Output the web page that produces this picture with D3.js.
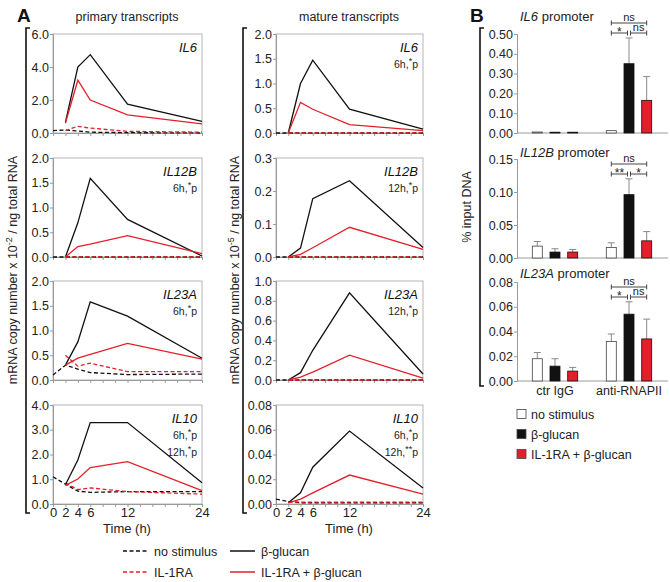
<!DOCTYPE html>
<html><head><meta charset="utf-8">
<script src="https://cdn.jsdelivr.net/npm/d3@7"></script>
<style>
body{margin:0;background:#fff;}
svg{font-family:"Liberation Sans",Arial,sans-serif;}
</style></head>
<body>
<svg id="c" width="670" height="582"></svg>
<script>
// ---------- DATA ----------
const timesH = [0, 2, 4, 6, 12, 24];
const timeTickLabels = [0, 2, 4, 6, 12, 24];
const seriesNames = ["no stimulus", "IL-1RA", "β-glucan", "IL-1RA + β-glucan"];

// primary transcripts (x 10^-2)
const pIL6_noStim   = [0.15, 0.18, 0.12, 0.05, 0.02, 0.0];
const pIL6_il1ra    = [null, 0.15, 0.40, 0.30, 0.10, 0.05];
const pIL6_beta     = [null, 0.65, 4.0, 4.75, 1.75, 0.70];
const pIL6_il1raB   = [null, 0.60, 3.2, 2.0, 1.10, 0.55];

const pIL12B_noStim = [0.0, 0.0, 0.0, 0.0, 0.0, 0.0];
const pIL12B_il1ra  = [null, 0.0, 0.0, 0.0, 0.0, 0.0];
const pIL12B_beta   = [null, 0.0, 0.69, 1.59, 0.76, 0.02];
const pIL12B_il1raB = [null, 0.0, 0.21, 0.26, 0.43, 0.07];

const pIL23A_noStim = [0.10, 0.30, 0.22, 0.15, 0.11, 0.12];
const pIL23A_il1ra  = [null, 0.50, 0.28, 0.34, 0.17, 0.17];
const pIL23A_beta   = [null, 0.30, 0.77, 1.58, 1.29, 0.44];
const pIL23A_il1raB = [null, 0.30, 0.44, 0.52, 0.74, 0.42];

const pIL10_noStim  = [1.10, 0.80, 0.52, 0.47, 0.50, 0.50];
const pIL10_il1ra   = [null, 0.85, 0.58, 0.65, 0.50, 0.40];
const pIL10_beta    = [null, 0.78, 1.78, 3.29, 3.29, 0.86];
const pIL10_il1raB  = [null, 0.75, 1.01, 1.47, 1.71, 0.54];

// mature transcripts (x 10^-5)
const mIL6_noStim   = [0.0, 0.0, 0.0, 0.0, 0.0, 0.0];
const mIL6_il1ra    = [null, 0.0, 0.0, 0.0, 0.0, 0.0];
const mIL6_beta     = [null, 0.0, 1.0, 1.47, 0.48, 0.08];
const mIL6_il1raB   = [null, 0.0, 0.62, 0.48, 0.17, 0.05];

const mIL12B_noStim = [0.0, 0.0, 0.0, 0.0, 0.0, 0.0];
const mIL12B_il1ra  = [null, 0.0, 0.0, 0.0, 0.0, 0.0];
const mIL12B_beta   = [null, 0.0, 0.027, 0.177, 0.231, 0.029];
const mIL12B_il1raB = [null, 0.0, 0.008, 0.028, 0.090, 0.023];

const mIL23A_noStim = [0.0, 0.0, 0.0, 0.0, 0.0, 0.0];
const mIL23A_il1ra  = [null, 0.0, 0.0, 0.0, 0.0, 0.0];
const mIL23A_beta   = [null, 0.0, 0.074, 0.30, 0.88, 0.06];
const mIL23A_il1raB = [null, 0.0, 0.03, 0.08, 0.25, 0.02];

const mIL10_noStim  = [0.004, 0.002, 0.001, 0.001, 0.001, 0.001];
const mIL10_il1ra   = [null, 0.002, 0.0015, 0.0015, 0.0015, 0.0015];
const mIL10_beta    = [null, 0.001, 0.009, 0.0297, 0.059, 0.013];
const mIL10_il1raB  = [null, 0.001, 0.004, 0.009, 0.0234, 0.008];

// panel labels / y ticks
const genes = ["IL6", "IL12B", "IL23A", "IL10"];
const primaryTicks = [[0, 2, 4, 6], [0, 0.5, 1, 1.5, 2], [0, 0.5, 1, 1.5, 2], [0, 1, 2, 3, 4]];
const matureTicks  = [[0, 0.5, 1, 1.5, 2], [0, 0.1, 0.2, 0.3], [0, 0.2, 0.4, 0.6, 0.8, 1.0], [0, 0.02, 0.04, 0.06, 0.08]];
const primaryFmt = [".1f", ".1f", ".1f", ".1f"];
const matureFmt  = [".1f", ".1f", ".1f", ".2f"];
const primaryNotes = [[], ["6h,*p"], ["6h,*p"], ["6h,*p", "12h,*p"]];
const matureNotes  = [["6h,*p"], ["12h,*p"], ["12h,*p"], ["6h,*p", "12h,**p"]];

// panel B : ChIP % input DNA
const chipGroups = ["ctr IgG", "anti-RNAPII"];
const chipConditions = ["no stimulus", "β-glucan", "IL-1RA + β-glucan"];
const chipPromoters = ["IL6", "IL12B", "IL23A"];
const chipIL6_mean    = [0.005, 0.004, 0.004, 0.012, 0.35, 0.165];
const chipIL6_err     = [0.0, 0.0, 0.0, 0.0, 0.13, 0.12];
const chipIL12B_mean  = [0.018, 0.009, 0.009, 0.016, 0.096, 0.026];
const chipIL12B_err   = [0.007, 0.005, 0.004, 0.007, 0.024, 0.014];
const chipIL23A_mean  = [0.018, 0.012, 0.008, 0.032, 0.054, 0.034];
const chipIL23A_err   = [0.005, 0.006, 0.003, 0.006, 0.010, 0.016];
const chipTicks = [[0, 0.1, 0.2, 0.3, 0.4, 0.5], [0, 0.05, 0.10, 0.15], [0, 0.02, 0.04, 0.06, 0.08]];
const chipSig = [["ns", "*", "ns"], ["ns", "**", "*"], ["ns", "*", "ns"]];

// ---------- DRAW ----------
const svg = d3.select("#c");
const FONT = "Liberation Sans, Arial, sans-serif";
const RED = "#e3202a";
const FRAME = "#9a9a9a";

const primary = [
  [pIL6_noStim, pIL6_il1ra, pIL6_beta, pIL6_il1raB],
  [pIL12B_noStim, pIL12B_il1ra, pIL12B_beta, pIL12B_il1raB],
  [pIL23A_noStim, pIL23A_il1ra, pIL23A_beta, pIL23A_il1raB],
  [pIL10_noStim, pIL10_il1ra, pIL10_beta, pIL10_il1raB]
];
const mature = [
  [mIL6_noStim, mIL6_il1ra, mIL6_beta, mIL6_il1raB],
  [mIL12B_noStim, mIL12B_il1ra, mIL12B_beta, mIL12B_il1raB],
  [mIL23A_noStim, mIL23A_il1ra, mIL23A_beta, mIL23A_il1raB],
  [mIL10_noStim, mIL10_il1ra, mIL10_beta, mIL10_il1raB]
];
const styles = [
  {color: "#111", dash: "4,2.5"},
  {color: RED, dash: "4,2.5"},
  {color: "#111", dash: null},
  {color: RED, dash: null}
];

const panelTops = [34, 158, 281, 405];
const panelH = 99;

function drawLinePanel(x0, x1, top, data, ticks, fmt, gene, notes, bottom) {
  const x = d3.scaleLinear().domain([0, 24]).range([x0, x1]);
  const y = d3.scaleLinear().domain([0, ticks[ticks.length - 1]]).range([top + panelH, top]);
  const g = svg.append("g");
  g.append("rect").attr("x", x0).attr("y", top).attr("width", x1 - x0).attr("height", panelH)
    .attr("fill", "none").attr("stroke", "#b5b5b5").attr("stroke-width", 1);
  const ya = g.append("g").attr("transform", `translate(${x0},0)`)
    .call(d3.axisLeft(y).tickValues(ticks).tickFormat(d3.format(fmt)).tickSize(3).tickPadding(1));
  ya.select(".domain").attr("stroke", FRAME);
  ya.selectAll(".tick line").attr("stroke", FRAME);
  ya.selectAll("text").attr("font-size", 12.5).attr("font-family", FONT).attr("fill", "#222");
  const xa = g.append("g").attr("transform", `translate(0,${top + panelH})`)
    .call(d3.axisBottom(x).tickValues(d3.range(0, 25, 2)).tickSize(3).tickPadding(1)
      .tickFormat(d => bottom && timeTickLabels.includes(d) ? d : ""));
  xa.select(".domain").attr("stroke", FRAME);
  xa.selectAll(".tick line").attr("stroke", FRAME);
  xa.selectAll("text").attr("font-size", 13).attr("font-family", FONT).attr("fill", "#222").attr("dy", "0.7em");
  const line = d3.line().defined(d => d[1] !== null).x(d => x(d[0])).y(d => y(d[1]));
  data.forEach((s, i) => {
    const pts = timesH.map((t, k) => [t, s[k]]);
    g.append("path").datum(pts).attr("d", line).attr("fill", "none")
      .attr("stroke", styles[i].color).attr("stroke-width", 1.3)
      .attr("stroke-dasharray", styles[i].dash);
  });
  g.append("text").attr("x", x1 - 5).attr("y", top + 18).attr("text-anchor", "end")
    .attr("font-style", "italic").attr("font-size", 13).attr("font-family", FONT).attr("fill", "#111").text(gene);
  notes.forEach((n, k) => {
    const parts = n.split("*");
    const stars = (n.match(/\*/g) || []).length;
    const t = g.append("text").attr("x", x1 - 5).attr("y", top + 34 + k * 17).attr("text-anchor", "end")
      .attr("font-size", 10.5).attr("font-family", FONT).attr("fill", "#222");
    t.append("tspan").text(parts[0]);
    t.append("tspan").attr("dy", -4).attr("font-size", 9).text("*".repeat(stars));
    t.append("tspan").attr("dy", 4).text(parts[parts.length - 1]);
  });
  return x;
}

genes.forEach((gname, i) => {
  drawLinePanel(53, 202, panelTops[i], primary[i], primaryTicks[i], primaryFmt[i], gname, primaryNotes[i], i === 3);
  drawLinePanel(276, 423, panelTops[i], mature[i], matureTicks[i], matureFmt[i], gname, matureNotes[i], i === 3);
});

function txt(x, y, s, opts = {}) {
  const t = svg.append("text").attr("x", x).attr("y", y).attr("font-family", FONT)
    .attr("font-size", opts.size || 12.5).attr("fill", opts.fill || "#222")
    .attr("text-anchor", opts.anchor || "start");
  if (opts.weight) t.attr("font-weight", opts.weight);
  if (opts.italic) t.attr("font-style", "italic");
  t.text(s);
  return t;
}

txt(17, 22, "A", {size: 19, weight: "bold", fill: "#111"});
txt(127, 21, "primary transcripts", {anchor: "middle"});
txt(349, 21, "mature transcripts", {anchor: "middle"});
txt(127, 533, "Time (h)", {anchor: "middle", size: 13});
txt(349, 533, "Time (h)", {anchor: "middle", size: 13});

function bracket(x, y0, y1) {
  svg.append("path").attr("d", `M${x + 4},${y0}H${x}V${y1}H${x + 4}`)
    .attr("fill", "none").attr("stroke", "#111").attr("stroke-width", 1.6);
}
bracket(26, 28, 513);
bracket(243, 28, 513);
bracket(480, 28, 386);

function ylab(x, yc, pow) {
  const t = svg.append("text").attr("transform", `translate(${x},${yc}) rotate(-90)`)
    .attr("text-anchor", "middle").attr("font-family", FONT).attr("font-size", 12.5).attr("fill", "#222");
  t.append("tspan").text("mRNA copy number x 10");
  t.append("tspan").attr("dy", -5).attr("font-size", 9).text(pow);
  t.append("tspan").attr("dy", 5).text(" / ng total RNA");
}
ylab(17, 270, "-2");
ylab(239, 270, "-5");

const legA = [
  {x: 123, y: 551, i: 0}, {x: 230, y: 551, i: 2},
  {x: 123, y: 572, i: 1}, {x: 230, y: 572, i: 3}
];
legA.forEach(l => {
  svg.append("line").attr("x1", l.x).attr("x2", l.x + 25).attr("y1", l.y).attr("y2", l.y)
    .attr("stroke", styles[l.i].color).attr("stroke-width", 1.5).attr("stroke-dasharray", styles[l.i].dash);
  txt(l.x + 31, l.y + 4.5, seriesNames[l.i], {size: 12.5});
});

// ---------- PANEL B ----------
txt(470, 22, "B", {size: 19, weight: "bold", fill: "#111"});
const chipMeans = [chipIL6_mean, chipIL12B_mean, chipIL23A_mean];
const chipErrs = [chipIL6_err, chipIL12B_err, chipIL23A_err];
const bTops = [34, 159, 282];
const bTitleY = [21, 157, 278];
const bSigY = [[23, 33], [164, 174], [287, 297]];
const bH = 99;
const bx0 = 517, bx1 = 668;
const gx = d3.scaleBand().domain(chipGroups).range([518, 666]);
const cx = d3.scalePoint().domain(chipConditions).range([-17.7, 17.7]);
const barFill = ["#fff", "#111", RED];
const barW = 10;

chipPromoters.forEach((p, i) => {
  const top = bTops[i];
  const ticks = chipTicks[i];
  const y = d3.scaleLinear().domain([0, ticks[ticks.length - 1]]).range([top + bH, top]);
  const g = svg.append("g");
  const ya = g.append("g").attr("transform", `translate(${bx0},0)`)
    .call(d3.axisLeft(y).tickValues(ticks).tickFormat(d3.format(".2f")).tickSize(3).tickPadding(1));
  ya.select(".domain").attr("stroke", FRAME);
  ya.selectAll(".tick line").attr("stroke", FRAME);
  ya.selectAll("text").attr("font-size", 12.5).attr("font-family", FONT).attr("fill", "#222");
  g.append("line").attr("x1", bx0).attr("x2", bx1).attr("y1", y(0)).attr("y2", y(0)).attr("stroke", FRAME);
  const tt = g.append("text").attr("x", 520).attr("y", bTitleY[i]).attr("font-family", FONT)
    .attr("font-size", 13).attr("fill", "#222");
  tt.append("tspan").attr("font-style", "italic").text(p);
  tt.append("tspan").text(" promoter");
  const vals = chipMeans[i], errs = chipErrs[i];
  vals.forEach((v, k) => {
    const grp = chipGroups[Math.floor(k / 3)];
    const cond = chipConditions[k % 3];
    const xc = gx(grp) + gx.bandwidth() / 2 + cx(cond);
    if (errs[k] > 0) {
      g.append("line").attr("x1", xc).attr("x2", xc).attr("y1", y(v)).attr("y2", y(v + errs[k]))
        .attr("stroke", "#888").attr("stroke-width", 1);
      g.append("line").attr("x1", xc - 3.5).attr("x2", xc + 3.5).attr("y1", y(v + errs[k])).attr("y2", y(v + errs[k]))
        .attr("stroke", "#888").attr("stroke-width", 1);
    }
    g.append("rect").attr("x", xc - barW / 2).attr("y", y(v)).attr("width", barW)
      .attr("height", Math.max(0.8, y(0) - y(v)))
      .attr("fill", barFill[k % 3]).attr("stroke", k % 3 === 0 ? "#444" : "#111").attr("stroke-width", 0.8);
  });
  const gc = gx("anti-RNAPII") + gx.bandwidth() / 2;
  const c0 = gc + cx(chipConditions[0]), c1 = gc + cx(chipConditions[1]), c2 = gc + cx(chipConditions[2]);
  const sigs = chipSig[i];
  const [yU, yL] = bSigY[i];
  const rows = [[c0, c2, yU, sigs[0]], [c0, c1 - 1.5, yL, sigs[1]], [c1 + 1.5, c2, yL, sigs[2]]];
  rows.forEach(([a, b, yy, s]) => {
    g.append("path").attr("d", `M${a},${yy - 2.5}V${yy + 2.5}M${a},${yy}H${b}M${b},${yy - 2.5}V${yy + 2.5}`)
      .attr("fill", "none").attr("stroke", "#444").attr("stroke-width", 1);
    g.append("text").attr("x", (a + b) / 2).attr("y", s === "ns" ? yy - 2.5 : yy + 3).attr("text-anchor", "middle")
      .attr("font-family", FONT).attr("font-size", s === "ns" ? 11 : 12).attr("fill", "#222").text(s);
  });
  if (i === 2) {
    chipGroups.forEach(gname => {
      txt(gx(gname) + gx.bandwidth() / 2, 395, gname, {anchor: "middle", size: 12.5});
    });
  }
});

svg.append("text").attr("transform", "translate(471,207) rotate(-90)").attr("text-anchor", "middle")
  .attr("font-family", FONT).attr("font-size", 12.5).attr("fill", "#222").text("% input DNA");

chipConditions.forEach((c, k) => {
  const yy = 414 + k * 20;
  svg.append("rect").attr("x", 517).attr("y", yy - 4.5).attr("width", 9).attr("height", 9)
    .attr("fill", barFill[k]).attr("stroke", "#444").attr("stroke-width", 0.8);
  txt(531, yy + 4.5, c, {size: 12.5});
});
</script>
</body></html>
